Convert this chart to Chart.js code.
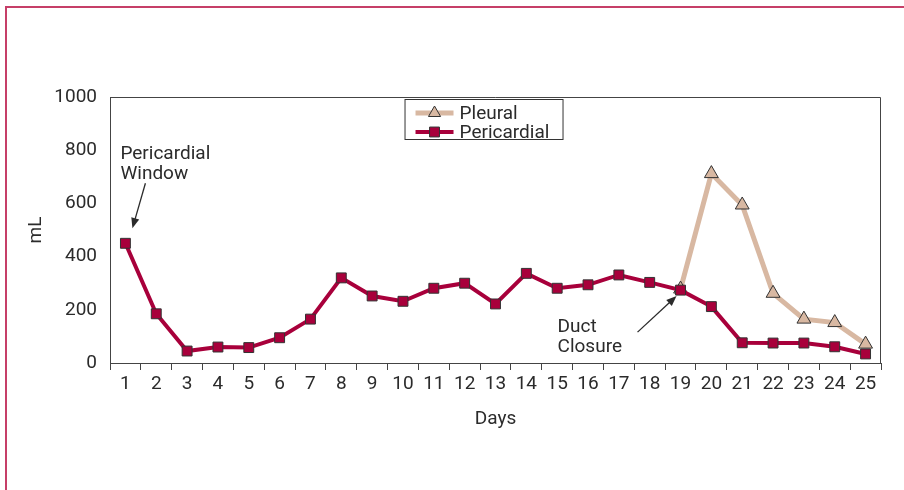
<!DOCTYPE html>
<html>
<head>
<meta charset="utf-8">
<script src="https://cdn.jsdelivr.net/npm/chart.js@4"></script>
<style>
  html, body { margin: 0; padding: 0; background: #fff; }
  #wrap { position: relative; width: 904px; height: 490px; }
</style>
</head>
<body>
<div id="wrap"><canvas id="chart" width="904" height="490"></canvas></div>
<script>
  const days = ['1','2','3','4','5','6','7','8','9','10','11','12','13','14','15','16','17','18','19','20','21','22','23','24','25'];
  const pericardial = [450, 185, 45, 60, 58, 95, 165, 320, 252, 232, 281, 300, 222, 337, 281, 294, 331, 303, 274, 212, 76, 75, 75, 61, 34];
  const pleural = [null, null, null, null, null, null, null, null, null, null, null, null, null, null, null, null, null, null, 278, 712, 594, 262, 165, 152, 71];
  const yTicks = [0, 200, 400, 600, 800, 1000];

  const FONT = 'Roboto, "Liberation Sans", sans-serif';
  const INK = '#2b2b2b';
  const PERI = '#a8003b';
  const PLEU = '#d8b8a2';

  const drawArrow = (ctx, x1, y1, x2, y2) => {
    const ang = Math.atan2(y2 - y1, x2 - x1);
    const head = 11;
    const wing = 0.38;
    ctx.save();
    ctx.strokeStyle = INK;
    ctx.fillStyle = INK;
    ctx.lineWidth = 1.3;
    ctx.beginPath();
    ctx.moveTo(x1, y1);
    ctx.lineTo(x2 - Math.cos(ang) * head * 0.8, y2 - Math.sin(ang) * head * 0.8);
    ctx.stroke();
    ctx.beginPath();
    ctx.moveTo(x2, y2);
    ctx.lineTo(x2 - head * Math.cos(ang - wing), y2 - head * Math.sin(ang - wing));
    ctx.lineTo(x2 - head * Math.cos(ang + wing), y2 - head * Math.sin(ang + wing));
    ctx.closePath();
    ctx.fill();
    ctx.restore();
  };

  // frame, plot box, legend and callouts
  const decor = {
    id: 'decor',
    beforeDraw(chart) {
      const ctx = chart.ctx;
      ctx.save();
      ctx.fillStyle = '#fff';
      ctx.fillRect(0, 0, chart.width, chart.height);
      ctx.strokeStyle = '#c63f68';
      ctx.lineWidth = 2;
      ctx.beginPath();
      ctx.moveTo(6, chart.height + 5);
      ctx.lineTo(6, 7);
      ctx.lineTo(chart.width + 5, 7);
      ctx.stroke();
      ctx.restore();
    },
    afterDatasetsDraw(chart) {
      const ctx = chart.ctx;
      const a = chart.chartArea;
      const x = chart.scales.x;
      const y = chart.scales.y;
      ctx.save();
      ctx.strokeStyle = '#444';
      ctx.lineWidth = 1;
      ctx.beginPath();
      ctx.moveTo(a.left, a.top + 0.5);
      ctx.lineTo(a.right - 0.5, a.top + 0.5);
      ctx.lineTo(a.right - 0.5, a.bottom);
      ctx.stroke();

      // legend box
      const lx = x.getPixelForValue(9.05);
      const ly = a.top + 2;
      const lw = 158;
      const lh = 40;
      ctx.fillStyle = '#fff';
      ctx.fillRect(lx, ly, lw, lh);
      ctx.strokeStyle = '#333';
      ctx.strokeRect(lx + 0.5, ly + 0.5, lw, lh);
      const rows = [
        { label: 'Pleural', color: PLEU, style: 'triangle', width: 5, r: 7, dy: 14 },
        { label: 'Pericardial', color: PERI, style: 'rect', width: 4, r: 7, dy: 33 }
      ];
      rows.forEach((row) => {
        const yy = ly + row.dy;
        ctx.strokeStyle = row.color;
        ctx.lineWidth = row.width;
        ctx.beginPath();
        ctx.moveTo(lx + 11, yy);
        ctx.lineTo(lx + 49, yy);
        ctx.stroke();
        ctx.fillStyle = row.color;
        ctx.strokeStyle = '#333';
        ctx.lineWidth = 1;
        Chart.helpers.drawPoint(ctx, { pointStyle: row.style, radius: row.r, borderWidth: 1 }, lx + 30, yy);
        ctx.fillStyle = INK;
        ctx.font = '19px ' + FONT;
        ctx.textBaseline = 'middle';
        ctx.textAlign = 'left';
        ctx.fillText(row.label, lx + 55, yy + 1);
      });

      // callouts anchored to data points
      ctx.fillStyle = INK;
      ctx.font = '19px ' + FONT;
      ctx.textBaseline = 'alphabetic';
      ctx.textAlign = 'left';
      const p1x = x.getPixelForValue(0);
      const p1y = y.getPixelForValue(pericardial[0]);
      ctx.fillText('Pericardial', p1x - 5, p1y - 84);
      ctx.fillText('Window', p1x - 5, p1y - 64);
      drawArrow(ctx, p1x + 20, p1y - 60, p1x + 7, p1y - 15);

      const p2x = x.getPixelForValue(18);
      const p2y = y.getPixelForValue(pericardial[18]);
      ctx.fillText('Duct', p2x - 123, p2y + 42);
      ctx.fillText('Closure', p2x - 123, p2y + 62);
      drawArrow(ctx, p2x - 43, p2y + 42, p2x - 4, p2y + 6);
      ctx.restore();
    }
  };

  new Chart(document.getElementById('chart'), {
    type: 'line',
    data: {
      labels: days,
      datasets: [
        {
          label: 'Pericardial',
          data: pericardial,
          borderColor: PERI,
          backgroundColor: PERI,
          borderWidth: 4,
          pointStyle: 'rect',
          pointRadius: 7,
          pointBorderColor: '#333',
          pointBorderWidth: 1,
          pointBackgroundColor: PERI,
          tension: 0
        },
        {
          label: 'Pleural',
          data: pleural,
          borderColor: PLEU,
          backgroundColor: PLEU,
          borderWidth: 5,
          pointStyle: 'triangle',
          pointRadius: 8,
          pointBorderColor: '#333',
          pointBorderWidth: 1,
          pointBackgroundColor: PLEU,
          tension: 0
        }
      ]
    },
    options: {
      responsive: false,
      animation: false,
      layout: { padding: { left: 20, right: 23, top: 97, bottom: 55 } },
      plugins: {
        legend: { display: false },
        tooltip: { enabled: false }
      },
      scales: {
        x: {
          offset: true,
          afterFit: (scale) => { scale.height = 72; },
          grid: {
            offset: true,
            drawOnChartArea: false,
            drawTicks: true,
            tickLength: 7,
            tickWidth: 1,
            tickColor: '#444'
          },
          border: { display: true, color: '#444', width: 1 },
          ticks: {
            color: INK,
            font: { family: FONT, size: 19 },
            padding: 3,
            maxRotation: 0,
            autoSkip: false
          },
          title: {
            display: true,
            text: 'Days',
            color: INK,
            font: { family: FONT, size: 19 },
            padding: { top: 7 }
          }
        },
        y: {
          min: 0,
          max: 1000,
          afterFit: (scale) => { scale.width = 90; },
          afterBuildTicks: (scale) => { scale.ticks = yTicks.map((v) => ({ value: v })); },
          grid: { display: false, drawTicks: false },
          border: { display: true, color: '#444', width: 1 },
          ticks: {
            color: INK,
            font: { family: FONT, size: 19 },
            padding: 13,
            callback: (value) => String(value)
          },
          title: {
            display: true,
            text: 'mL',
            color: INK,
            font: { family: FONT, size: 19 },
            padding: { top: 5, bottom: 0 }
          }
        }
      }
    },
    plugins: [decor]
  });
</script>
</body>
</html>
